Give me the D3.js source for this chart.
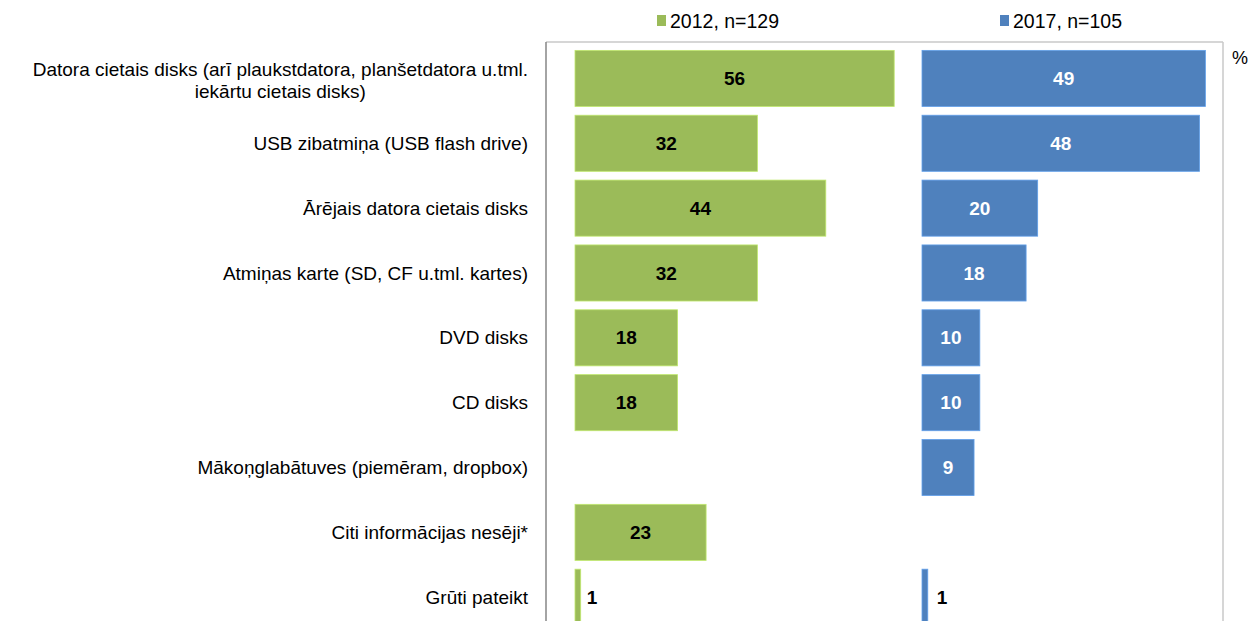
<!DOCTYPE html>
<html lang="lv">
  <head>
    <meta charset="utf-8">
    <title>datu nesēji</title>
    <style>
      body { margin: 0; background: #fff; }
      text { font-family: "Liberation Sans", Arial, sans-serif; }
    </style>
  </head>
  <body>

<script src="https://d3js.org/d3.v7.min.js"></script>

<script>

// data
var categories = [
  "Datora cietais disks (arī plaukstdatora, planšetdatora u.tml.|iekārtu cietais disks)",
  "USB zibatmiņa (USB flash drive)",
  "Ārējais datora cietais disks",
  "Atmiņas karte (SD, CF u.tml. kartes)",
  "DVD disks",
  "CD disks",
  "Mākoņglabātuves (piemēram, dropbox)",
  "Citi informācijas nesēji*",
  "Grūti pateikt"
];
var values2012 = [56, 32, 44, 32, 18, 18, null, 23, 1];
var values2017 = [49, 48, 20, 18, 10, 10, 9, null, 1];
var seriesNames = ["2012, n=129", "2017, n=105"];
var seriesColors = ["#9bbb59", "#4f81bd"];
var unitLabel = "%";

var W = 1248, H = 621;

var svg = d3.select("body").append("svg")
            .attr("width", W)
            .attr("height", H);

// layout
var plotLeft = 546, plotTop = 42, plotRight = 1223;
var panelStart = [575, 922];

// one scale per panel
var xs = [
  d3.scaleLinear().domain([0, 60]).range([0, 342]),
  d3.scaleLinear().domain([0, 60]).range([0, 347])
];
var y = d3.scaleBand()
          .domain(d3.range(categories.length))
          .range([46, 46 + 64.85 * categories.length])
          .paddingInner(0.135)
          .paddingOuter(0.0675);

// plot area frame
svg.append("line")
   .attr("x1", plotLeft).attr("y1", plotTop)
   .attr("x2", plotRight).attr("y2", plotTop)
   .attr("stroke", "#c8c8c8").attr("stroke-width", 1.5);
svg.append("line")
   .attr("x1", plotRight).attr("y1", plotTop)
   .attr("x2", plotRight).attr("y2", H)
   .attr("stroke", "#c8c8c8").attr("stroke-width", 1.5);
svg.append("line")
   .attr("x1", plotLeft).attr("y1", plotTop)
   .attr("x2", plotLeft).attr("y2", H)
   .attr("stroke", "#868686").attr("stroke-width", 1.5);

// bars
var series = [values2012, values2017];
var labelColors = ["#000", "#fff"];
series.forEach(function(vals, s) {
	var g = svg.append("g");
	var x = xs[s];
	vals.forEach(function(v, i) {
		if (v == null) return;
		var w = x(v);
		g.append("rect")
		 .attr("x", panelStart[s])
		 .attr("y", y(i))
		 .attr("width", w)
		 .attr("height", y.bandwidth())
		 .attr("fill", seriesColors[s])
		 .attr("stroke", d3.color(seriesColors[s]).brighter(0.6))
		 .attr("stroke-width", 0.8);
		var inside = w > 30;
		g.append("text")
		 .attr("x", inside ? panelStart[s] + w / 2 : panelStart[s] + w + (s === 0 ? 6 : 9))
		 .attr("y", y(i) + y.bandwidth() / 2)
		 .attr("dy", "0.35em")
		 .attr("text-anchor", inside ? "middle" : "start")
		 .attr("font-size", 19)
		 .attr("font-weight", "bold")
		 .attr("fill", inside ? labelColors[s] : "#000")
		 .text(v);
	});
});

// category labels
var catFont = 19;
categories.forEach(function(c, i) {
	var lines = c.split("|");
	var cy = y(i) + y.bandwidth() / 2;
	if (lines.length === 1) {
		svg.append("text")
		   .attr("x", 528).attr("y", cy).attr("dy", "0.35em")
		   .attr("text-anchor", "end").attr("font-size", catFont)
		   .attr("fill", "#000")
		   .text(lines[0]);
	} else {
		var t1 = svg.append("text")
		   .attr("x", 528).attr("y", cy - 9).attr("dy", "0.35em")
		   .attr("text-anchor", "end").attr("font-size", catFont)
		   .attr("fill", "#000")
		   .text(lines[0]);
		var len = t1.node().getComputedTextLength();
		svg.append("text")
		   .attr("x", 528 - len / 2).attr("y", cy + 13).attr("dy", "0.35em")
		   .attr("text-anchor", "middle").attr("font-size", catFont)
		   .attr("fill", "#000")
		   .text(lines[1]);
	}
});

// legend
var legendX = [657, 1000];
seriesNames.forEach(function(n, s) {
	svg.append("rect")
	   .attr("x", legendX[s]).attr("y", 15)
	   .attr("width", 9).attr("height", 11)
	   .attr("fill", seriesColors[s]);
	svg.append("text")
	   .attr("x", legendX[s] + 13).attr("y", 21).attr("dy", "0.35em")
	   .attr("font-size", 19.5).attr("fill", "#000")
	   .text(n);
});

// unit
svg.append("text")
   .attr("x", 1232).attr("y", 58).attr("dy", "0.35em")
   .attr("font-size", 18).attr("fill", "#000")
   .text(unitLabel);

</script>

  </body>
</html>
